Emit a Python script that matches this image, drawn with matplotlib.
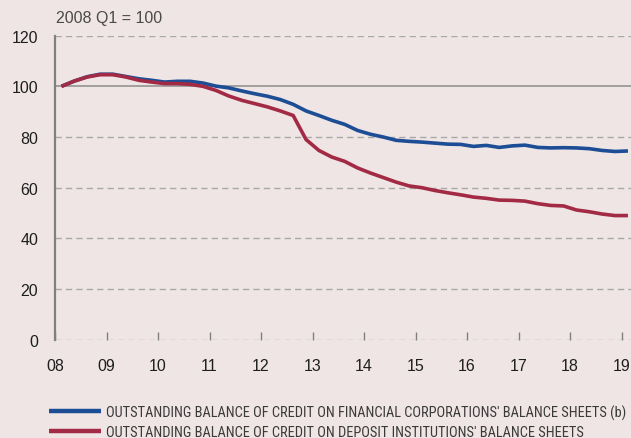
import matplotlib
matplotlib.use("Agg")
import matplotlib.pyplot as plt
from matplotlib import font_manager
import numpy as np

# ---- data (quarterly, 2008 Q1 = 100) ----
years = list(range(2008, 2020))
year_labels = ["08", "09", "10", "11", "12", "13", "14", "15", "16", "17", "18", "19"]
start_year = 2008
n_quarters = 45  # 2008Q1 .. 2019Q1

financial_corps = [
    100.0, 102.1, 103.8, 104.8,
    104.8, 103.9, 103.0, 102.4,
    101.7, 102.0, 102.0, 101.3,
    100.1, 99.4, 98.2, 97.1,
    96.1, 94.8, 92.9, 90.3,
    88.5, 86.6, 85.0, 82.6,
    81.1, 80.0, 78.7, 78.3,
    78.0, 77.6, 77.2, 77.1,
    76.3, 76.7, 75.9, 76.5,
    76.8, 75.9, 75.7, 75.8,
    75.7, 75.4, 74.7, 74.3,
    74.5,
]
deposit_insts = [
    100.0, 102.1, 103.7, 104.6,
    104.6, 103.7, 102.4, 101.7,
    101.1, 101.1, 100.8, 100.0,
    98.4, 96.2, 94.5, 93.2,
    91.9, 90.3, 88.5, 79.0,
    74.7, 72.1, 70.4, 67.8,
    65.8, 64.0, 62.2, 60.7,
    60.0, 58.9, 58.0, 57.2,
    56.3, 55.8, 55.1, 55.0,
    54.7, 53.7, 53.0, 52.8,
    51.2, 50.5, 49.6, 49.0,
    49.0,
]
series_labels = [
    "OUTSTANDING BALANCE OF CREDIT ON FINANCIAL CORPORATIONS' BALANCE SHEETS (b)",
    "OUTSTANDING BALANCE OF CREDIT ON DEPOSIT INSTITUTIONS' BALANCE SHEETS",
]
y_ticks = [0, 20, 40, 60, 80, 100, 120]
unit_label = "2008 Q1 = 100"

# quarter positions (mid-quarter)
x = start_year + 0.125 + 0.25 * np.arange(n_quarters)

BG = "#EFE5E4"
BLUE = "#1C4D95"
RED = "#A32A45"
GRID = "#A8A8A8"
AXIS = "#808080"
TXT = "#1E1E1E"
MAIN_FONT = ["Liberation Sans", "DejaVu Sans"]

# look for a condensed / narrow sans font for the legend
def find_condensed():
    prefs = []
    for f in font_manager.fontManager.ttflist:
        name = f.name.lower()
        path = f.fname.lower()
        cond = ("narrow" in name or "condensed" in name or "narrow" in path
                or "condensed" in path or str(f.stretch) in ("condensed", "semi-condensed", "extra-condensed"))
        if not cond:
            continue
        if f.style != "normal" or f.weight not in (400, "normal", "regular"):
            continue
        if "mono" in name or "serif" in name and "sans" not in name:
            continue
        if "liberation" in name or "arial" in name or "helvet" in name:
            rank = 0
        elif "roboto" in name or "open" in name:
            rank = 1
        elif "dejavu" in name:
            rank = 2
        else:
            rank = 3
        prefs.append((rank, f.fname))
    prefs.sort()
    return prefs[0][1] if prefs else None

cond_path = find_condensed()

W, H = 631, 439
fig = plt.figure(figsize=(W / 100, H / 100), dpi=100, facecolor=BG)
ax = fig.add_axes([55 / W, (H - 340.7) / H, (W - 55) / W, (340.7 - 36.7) / H])
ax.set_facecolor(BG)

# grid lines
for yv in y_ticks:
    if yv == 100:
        ax.axhline(yv, color="#8C8C8C", lw=1.1, zorder=1)
    else:
        ax.axhline(yv, color=GRID, lw=1.0, ls=(0, (4.5, 3)), zorder=1)

l1, = ax.plot(x, financial_corps, color=BLUE, lw=2.6, zorder=3,
              solid_capstyle="butt", solid_joinstyle="round")
l2, = ax.plot(x, deposit_insts, color=RED, lw=2.6, zorder=4,
              solid_capstyle="butt", solid_joinstyle="round")

ax.set_xlim(start_year, start_year + (W - 55) / 51.5)
ax.set_ylim(0, 120)

for s in ["top", "right", "bottom"]:
    ax.spines[s].set_visible(False)
ax.spines["left"].set_color(AXIS)
ax.spines["left"].set_linewidth(1.6)

ax.set_yticks(y_ticks)
ax.set_yticklabels([str(v) for v in y_ticks], fontsize=11.5, color=TXT, family=MAIN_FONT)
ax.tick_params(axis="y", length=0, pad=12)

ax.set_xticks(years)
ax.set_xticklabels(year_labels, fontsize=11.5, color=TXT, family=MAIN_FONT)
ax.tick_params(axis="x", direction="in", length=5.5, width=1.0, color=AXIS, pad=13)

fig.text(56 / W, 1 - 19 / H, unit_label, fontsize=11.5, color="#4A4A4A",
         va="center", ha="left", family=MAIN_FONT)

# legend, two rows; size fitted so the longest row is ~520 px wide
target_w = 520.0
if cond_path:
    base_prop = font_manager.FontProperties(fname=cond_path)
else:
    base_prop = font_manager.FontProperties(family=MAIN_FONT)

renderer = fig.canvas.get_renderer()
probe = fig.text(0, 0, series_labels[0], fontproperties=base_prop)
probe.set_fontsize(11.5)
w_px = probe.get_window_extent(renderer).width
probe.remove()
leg_size = min(11.5, 11.5 * target_w / w_px)

prop = base_prop.copy()
prop.set_size(leg_size)
fs_px = leg_size * 100 / 72.0
leg = fig.legend([l1, l2], series_labels, loc="center left",
                 bbox_to_anchor=(49 / W, 1 - 422.5 / H), frameon=False,
                 handlelength=52 / fs_px, handletextpad=5 / fs_px,
                 labelspacing=(21.5 - 1.15 * fs_px) / fs_px,
                 borderpad=0, borderaxespad=0, prop=prop)
for t in leg.get_texts():
    t.set_color("#3A3A3A")
for h in leg.legend_handles:
    h.set_linewidth(3.2)

fig.savefig("out.png", dpi=100, facecolor=BG)
